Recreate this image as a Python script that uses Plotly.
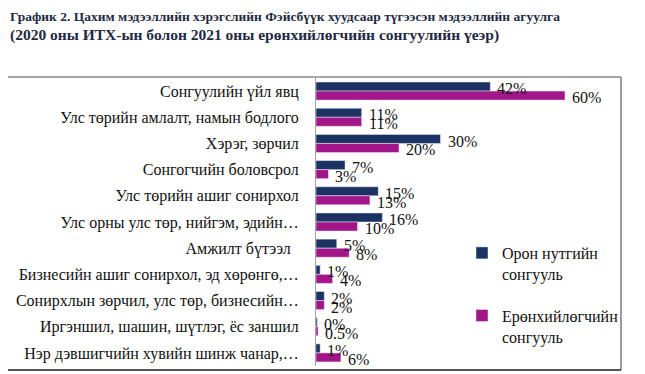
import plotly.graph_objects as go

categories = [
    "Сонгуулийн үйл явц",
    "Улс төрийн амлалт, намын бодлого",
    "Хэрэг, зөрчил",
    "Сонгогчийн боловсрол",
    "Улс төрийн ашиг сонирхол",
    "Улс орны улс төр, нийгэм, эдийн…",
    "Амжилт бүтээл\u00a0\u00a0",
    "Бизнесийн ашиг сонирхол, эд хөрөнгө,…",
    "Сонирхлын зөрчил, улс төр, бизнесийн…",
    "Иргэншил, шашин, шүтлэг, ёс заншил",
    "Нэр дэвшигчийн хувийн шинж чанар,…",
]
local_vals = [42, 11, 30, 7, 15, 16, 5, 1, 2, 0.3, 1]
local_text = ["42%", "11%", "30%", "7%", "15%", "16%", "5%", "1%", "2%", "0%", "1%"]
pres_vals = [60, 11, 20, 3, 13, 10, 8, 4, 2, 0.5, 6]
pres_text = ["60%", "11%", "20%", "3%", "13%", "10%", "8%", "4%", "2%", "0.5%", "6%"]
series_names = ["Орон нутгийн<br>сонгууль", "Ерөнхийлөгчийн<br>сонгууль"]
title_line1 = "<b>График 2. Цахим мэдээллийн хэрэгслийн Фэйсбүүк хуудсаар түгээсэн мэдээллийн агуулга</b>"
title_line2 = "<b>(2020 оны ИТХ-ын болон 2021 оны ерөнхийлөгчийн сонгуулийн үеэр)</b>"

NAVY = "#1b3263"
MAG = "#a3168a"
SERIF = "Liberation Serif"

# page body has an 8px margin; work in screen pixels and convert
OFF = 8
W, H = 645 - OFF, 374 - OFF
L, R, T, B = 316 - OFF, 621 - OFF, 78 - OFF, 366 - OFF

def px(x):
    return (x - OFF - L) / (R - L)

def py(y):
    return (B - (y - OFF)) / (B - T)

fig = go.Figure()
fig.add_trace(go.Bar(y=categories, x=local_vals, orientation="h", name=series_names[0],
                     marker_color=NAVY, legendgroup="a"))
fig.add_trace(go.Bar(y=categories, x=pres_vals, orientation="h", name=series_names[1],
                     marker_color=MAG, legendgroup="b"))

ann = []
for vals, texts, off in ((local_vals, local_text, -0.17), (pres_vals, pres_text, 0.17)):
    for i, (v, t) in enumerate(zip(vals, texts)):
        ann.append(dict(x=v, y=i + off, xref="x", yref="y", text=t, showarrow=False,
                        xanchor="left", yanchor="middle", xshift=5, yshift=-2,
                        font=dict(family=SERIF, size=16, color="#111")))

for txt, ycen, size in ((title_line1, 17, 13.5), (title_line2, 35, 15.5)):
    ann.append(dict(x=px(OFF), y=py(ycen), xref="paper", yref="paper", text=txt, showarrow=False,
                    xanchor="left", yanchor="middle", align="left",
                    font=dict(family=SERIF, size=size, color="#1f2a44")))

shapes = [
    dict(type="line", xref="paper", yref="paper", x0=px(OFF), x1=px(621), y0=py(77), y1=py(77),
         line=dict(color="#8a8a8a", width=1.5)),
    dict(type="line", xref="paper", yref="paper", x0=px(621), x1=px(621), y0=py(77), y1=py(370),
         line=dict(color="#7a7a7a", width=1.5)),
    dict(type="line", xref="paper", yref="paper", x0=px(OFF), x1=px(621), y0=py(370), y1=py(370),
         line=dict(color="#555555", width=2)),
]

fig.update_layout(
    width=W, height=H,
    margin=dict(l=L, r=W - R, t=T, b=H - B, autoexpand=False),
    paper_bgcolor="white", plot_bgcolor="white",
    barmode="group", bargap=0.31, bargroupgap=0,
    xaxis=dict(range=[0, 60 * (R - L) / (565 - OFF - L)], visible=False),
    yaxis=dict(range=[len(categories) - 0.5, -0.5], showline=True, linecolor="#a0a0a0", linewidth=1,
               ticks="outside", ticklen=13, tickcolor="rgba(0,0,0,0)",
               tickfont=dict(family=SERIF, size=16, color="#111"), showgrid=False),
    legend=dict(x=px(462), y=py(236), xanchor="left", yanchor="top",
                traceorder="grouped", tracegroupgap=18, valign="top",
                font=dict(family=SERIF, size=16, color="#111"),
                itemwidth=30, bgcolor="rgba(0,0,0,0)"),
    annotations=ann,
    shapes=shapes,
)

fig.write_html("out.html")
